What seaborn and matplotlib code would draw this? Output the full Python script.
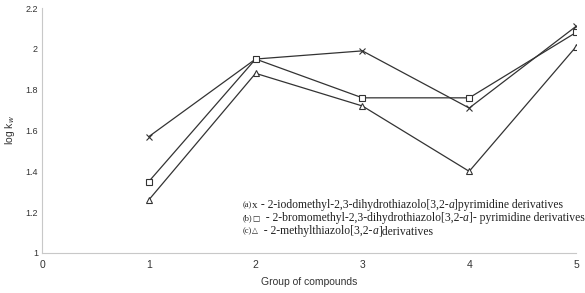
import matplotlib
matplotlib.use("Agg")
import matplotlib.pyplot as plt
import seaborn as sns
import pandas as pd

groups = [1, 2, 3, 4, 5]
iodo = [1.57, 1.95, 1.99, 1.71, 2.11]
bromo = [1.35, 1.95, 1.76, 1.76, 2.08]
methyl = [1.26, 1.88, 1.72, 1.40, 2.01]
legend_lines = [
    ("(a)", "x", " - 2-iodomethyl-2,3-dihydrothiazolo[3,2-", "a", "]pyrimidine derivatives"),
    ("(b)", "\u25a1", "  - 2-bromomethyl-2,3-dihydrothiazolo[3,2-", "a", "]- pyrimidine derivatives"),
    ("(c)", "\u25b3", "  - 2-methylthiazolo[3,2-", "a", "]derivatives"),
]

sns.set_style("white")
plt.rcParams["font.family"] = ["Liberation Sans", "DejaVu Sans"]

fig = plt.figure(figsize=(5.85, 2.93), dpi=100)
ax = fig.add_axes([42 / 585, 1 - 253 / 293, (576 - 42) / 585, (253 - 8) / 293])

for vals, mk in [(iodo, "x"), (bromo, "s"), (methyl, "^")]:
    df = pd.DataFrame({"group": groups, "logkw": vals})
    kw = dict(marker=mk, markersize=4 if mk != "x" else 5, markeredgecolor="#333333",
              markeredgewidth=0.8)
    if mk != "x":
        kw["markerfacecolor"] = "white"
    sns.lineplot(data=df, x="group", y="logkw", color="#333333", linewidth=0.9,
                 ax=ax, **kw)

ax.set_xlim(0, 5)
ax.set_ylim(1, 2.2)
ax.set_xticks([0, 1, 2, 3, 4, 5])
ax.set_yticks([1, 1.2, 1.4, 1.6, 1.8, 2, 2.2])
ax.set_yticklabels(["1", "1.2", "1.4", "1.6", "1.8", "2", "2.2"])
for s in ["top", "right"]:
    ax.spines[s].set_visible(False)
for s in ["left", "bottom"]:
    ax.spines[s].set_color("#c8c8c8")
    ax.spines[s].set_linewidth(0.8)
ax.tick_params(axis="x", length=3, color="#c8c8c8", labelsize=7.5, labelcolor="#333333", pad=5, direction="in")
ax.tick_params(axis="y", length=0, labelsize=6.5, labelcolor="#333333", pad=3)
ax.set_xlabel("Group of compounds", fontsize=7.5, color="#333333", labelpad=5)
ax.set_ylabel("log k$_w$", fontsize=7.5, color="#333333", labelpad=6)

ser = ["Liberation Serif", "DejaVu Serif"]
y0 = 205
fig.canvas.draw()
r = fig.canvas.get_renderer()


def nxt(t):
    bb = t.get_window_extent(r)
    return bb.x1 / fig.bbox.width


for i, (lab, mk, t1, it, t2) in enumerate(legend_lines):
    y = 1 - (y0 + i * 13) / 293
    x = 243 / 585
    t = fig.text(x, y, lab, fontsize=6, family=ser, va="center", color="#222222")
    t = fig.text(nxt(t), y, mk, fontsize=8 if mk == "x" else 5.5,
                 family=["DejaVu Sans"] if mk != "x" else ser, va="center", color="#222222")
    t = fig.text(nxt(t), y, t1, fontsize=8.4, family=ser, va="center", color="#222222")
    t = fig.text(nxt(t), y, it, fontsize=8.4, family=ser, style="italic", va="center", color="#222222")
    t = fig.text(nxt(t), y, t2, fontsize=8.4, family=ser, va="center", color="#222222")

fig.savefig("out.png", dpi=100)
